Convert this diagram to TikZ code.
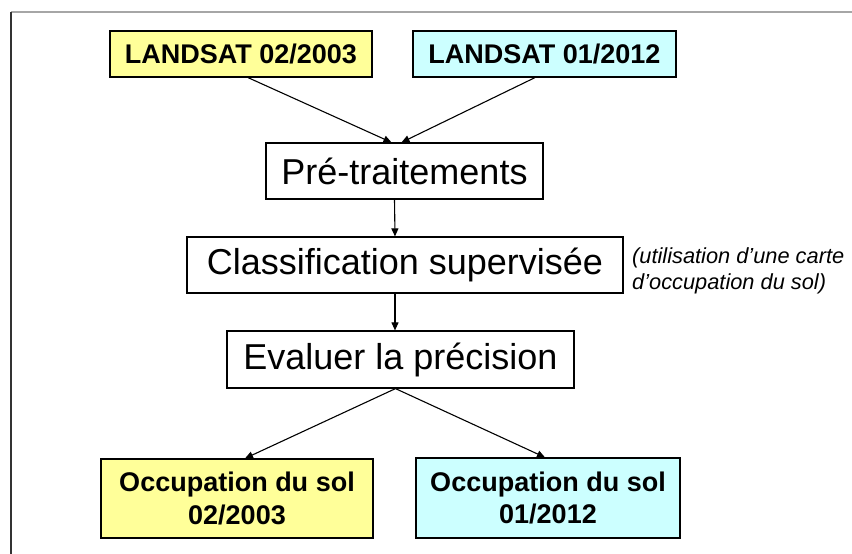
\documentclass[tikz,border=0pt]{standalone}
\usepackage{fontspec}
\setmainfont{Liberation Sans}
\usepackage{tikz}
\usetikzlibrary{positioning,arrows.meta,shadows}
\usepackage{xcolor}
\definecolor{paleyellow}{HTML}{FFFF99}
\definecolor{palecyan}{HTML}{CCFFFF}
\definecolor{frameline}{HTML}{333333}

\tikzset{
  box/.style={draw=black, line width=1.2pt, fill=white, inner sep=0pt, align=center,
    general shadow={fill=black!55, shadow xshift=1.2pt, shadow yshift=-1.2pt}},
  datebox/.style={box, font=\fontsize{27}{32.5}\selectfont\bfseries},
  stepbox/.style={box, font=\fontsize{36}{43}\selectfont},
  arr/.style={-{Triangle[length=8pt,width=7pt]}, line width=1.1pt}
}

\begin{document}
\begin{tikzpicture}[x=1pt, y=-1pt]
  % page in pixel units: 852 x 554, y pointing down
  \useasboundingbox (0,0) rectangle (852,554);
  \fill[white] (0,0) rectangle (852,554);

  % slide frame
  \draw[gray!70, line width=1.2pt] (11,12) -- (852,12);
  \draw[frameline, line width=1.2pt] (11,12) -- (11,554);

  % input images
  \node[datebox, fill=paleyellow, minimum width=262pt, minimum height=46pt] (l03) at (241,54) {LANDSAT 02/2003};
  \node[datebox, fill=palecyan, minimum width=263pt, minimum height=46pt] (l12) at (544.5,54) {LANDSAT 01/2012};

  % processing chain
  \node[stepbox, minimum width=277pt, minimum height=56pt] (pre) at (404.5,171) {Pré-traitements};
  \node[stepbox, minimum width=436pt, minimum height=56pt] (cls) at (405,265) {Classification supervisée};
  \node[stepbox, minimum width=347pt, minimum height=57pt] (eval) at (400.5,359.5) {Evaluer la précision};

  \node[font=\fontsize{21.8}{25.5}\selectfont\itshape, align=left, anchor=west, inner sep=0pt] (note) at (632,271)
    {(utilisation d’une carte\\d’occupation du sol)};

  % results
  \node[datebox, fill=paleyellow, minimum width=272pt, minimum height=79pt] (o03) at (237,498.5) {Occupation du sol\\02/2003};
  \node[datebox, fill=palecyan, minimum width=264pt, minimum height=80pt] (o12) at (548,498) {Occupation du sol\\01/2012};

  % connectors
  \draw[arr] ([xshift=7pt]l03.south) -- ([xshift=-13pt]pre.north);
  \draw[arr] ([xshift=-9.5pt]l12.south) -- ([xshift=-3pt]pre.north);
  \draw[arr] ([xshift=-10pt]pre.south) -- ([xshift=-10pt]cls.north);
  \draw[arr] ([xshift=-10pt]cls.south) -- ([xshift=-5.5pt]eval.north);
  \draw[arr] ([xshift=-5pt]eval.south) -- ([xshift=8pt]o03.north);
  \draw[arr] ([xshift=-5pt]eval.south) -- ([xshift=-3pt]o12.north);
\end{tikzpicture}
\end{document}
